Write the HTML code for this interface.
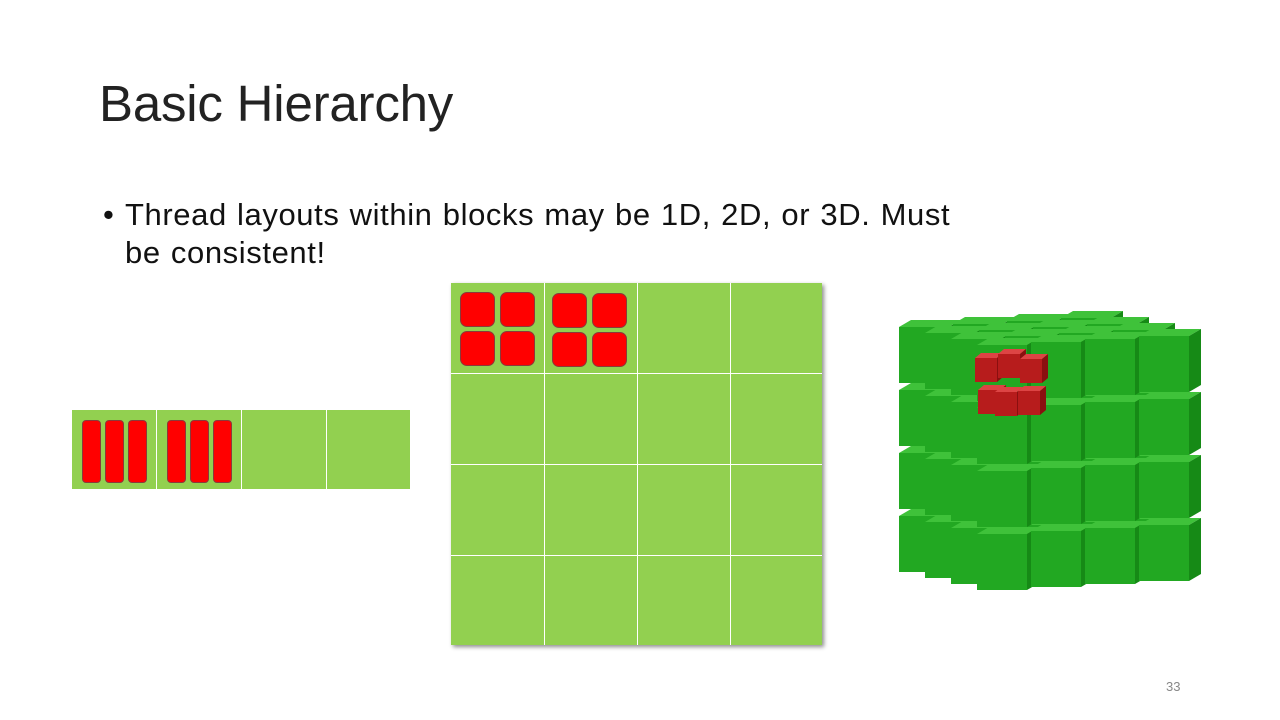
<!DOCTYPE html>
<html><head><meta charset="utf-8">
<style>
body{margin:0;width:1280px;height:720px;background:#fff;position:relative;overflow:hidden;font-family:"Liberation Sans",sans-serif;}
.abs{position:absolute}
#title{left:99px;top:74px;font-size:51px;color:#222;letter-spacing:-0.2px}
#bullet{left:103px;top:196px;font-size:31px;color:#111;line-height:38px;width:1000px;letter-spacing:0.6px;word-spacing:1px}
#bullet .l{position:absolute;left:22px;white-space:nowrap}
.red{position:absolute;background:#ff0000;border:1px solid #8a3a3a;box-sizing:border-box}
#pnum{left:1166px;top:679px;font-size:13px;color:#888}
</style></head><body>
<div id="title" class="abs">Basic Hierarchy</div>
<div id="bullet" class="abs"><span style="position:absolute;left:0">•</span><span class="l" style="top:0">Thread layouts within blocks may be 1D, 2D, or 3D. Must</span><span class="l" style="top:38px">be consistent!</span></div>

<div class="abs" style="left:72px;top:410px;width:338px;height:79px;background:#92d050">
  <div class="abs" style="left:84px;top:0;width:1px;height:79px;background:#fff"></div>
  <div class="abs" style="left:169px;top:0;width:1px;height:79px;background:#fff"></div>
  <div class="abs" style="left:254px;top:0;width:1px;height:79px;background:#fff"></div>
  <div class="red" style="left:10px;top:10px;width:19px;height:63px;border-radius:4px"></div>
  <div class="red" style="left:33px;top:10px;width:19px;height:63px;border-radius:4px"></div>
  <div class="red" style="left:56px;top:10px;width:19px;height:63px;border-radius:4px"></div>
  <div class="red" style="left:95px;top:10px;width:19px;height:63px;border-radius:4px"></div>
  <div class="red" style="left:118px;top:10px;width:19px;height:63px;border-radius:4px"></div>
  <div class="red" style="left:141px;top:10px;width:19px;height:63px;border-radius:4px"></div>
</div>

<div class="abs" style="left:451px;top:283px;width:371px;height:362px;background:#92d050;box-shadow:2px 2px 4px rgba(0,0,0,0.45)">
  <div class="abs" style="left:93px;top:0;width:1px;height:362px;background:#fff"></div>
  <div class="abs" style="left:186px;top:0;width:1px;height:362px;background:#fff"></div>
  <div class="abs" style="left:279px;top:0;width:1px;height:362px;background:#fff"></div>
  <div class="abs" style="left:0;top:90px;width:371px;height:1px;background:#fff"></div>
  <div class="abs" style="left:0;top:181px;width:371px;height:1px;background:#fff"></div>
  <div class="abs" style="left:0;top:272px;width:371px;height:1px;background:#fff"></div>
  <div class="red" style="left:9px;top:9px;width:35px;height:35px;border-radius:7px"></div>
  <div class="red" style="left:49px;top:9px;width:35px;height:35px;border-radius:7px"></div>
  <div class="red" style="left:9px;top:48px;width:35px;height:35px;border-radius:7px"></div>
  <div class="red" style="left:49px;top:48px;width:35px;height:35px;border-radius:7px"></div>
  <div class="red" style="left:101px;top:10px;width:35px;height:35px;border-radius:7px"></div>
  <div class="red" style="left:141px;top:10px;width:35px;height:35px;border-radius:7px"></div>
  <div class="red" style="left:101px;top:49px;width:35px;height:35px;border-radius:7px"></div>
  <div class="red" style="left:141px;top:49px;width:35px;height:35px;border-radius:7px"></div>
</div>

<svg class="abs" style="left:0;top:0" width="1280" height="720" id="cube"></svg>
<div id="pnum" class="abs">33</div>
<script>
const svg=document.getElementById('cube');
const NS='http://www.w3.org/2000/svg';
function poly(pts,fill){const p=document.createElementNS(NS,'polygon');p.setAttribute('points',pts.map(a=>a.join(',')).join(' '));p.setAttribute('fill',fill);svg.appendChild(p);}
const s=50, sp=54, dx=-26, dy=-6;
for(let k=3;k>=0;k--){
 for(let j=3;j>=0;j--){
  for(let i=0;i<4;i++){
   const x=977+i*sp+k*dx, y=345+j*63+k*dy-i*3;
   const tx=12, ty=-7, h=56;
   poly([[x,y],[x+s,y],[x+s+tx,y+ty],[x+tx,y+ty]],'#3fc23a');
   poly([[x+s,y],[x+s+tx,y+ty],[x+s+tx,y+ty+h],[x+s,y+h]],'#168a16');
   poly([[x,y],[x+s,y],[x+s,y+h],[x,y+h]],'#22a822');
  }
 }
}
const rs=[[975,358],[998,354],[1020,359],[978,390],[995,392],[1018,391]];
rs.forEach(([x,y])=>{poly([[x,y],[x+22,y],[x+28,y-5],[x+6,y-5]],'#d44');poly([[x+22,y],[x+28,y-5],[x+28,y+19],[x+22,y+24]],'#8a1010');poly([[x,y],[x+22,y],[x+22,y+24],[x,y+24]],'#b71c1c');});
</script>
</body></html>
